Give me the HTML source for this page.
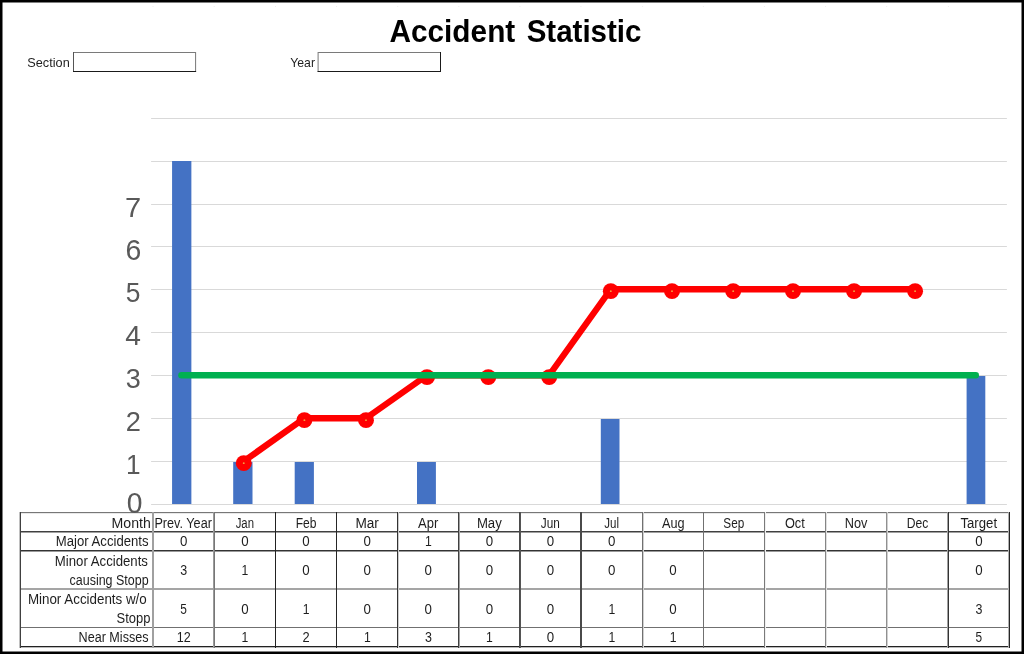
<!DOCTYPE html><html><head><meta charset="utf-8"><title>Accident Statistic</title><style>html,body{margin:0;padding:0;background:#fff;}body{width:1024px;height:654px;overflow:hidden;position:relative;}svg{position:absolute;left:0;top:0;display:block;will-change:transform;}text{font-family:"Liberation Sans",Arial,sans-serif;}</style></head><body>
<svg width="1024" height="654" viewBox="0 0 1024 654">
<rect x="0" y="0" width="1024" height="654" fill="#fff"/>
<rect x="152.5" y="6" width="1" height="1" fill="#eeeeee"/>
<rect x="213.7" y="6" width="1" height="1" fill="#eeeeee"/>
<rect x="275.0" y="6" width="1" height="1" fill="#eeeeee"/>
<rect x="336.1" y="6" width="1" height="1" fill="#eeeeee"/>
<rect x="397.2" y="6" width="1" height="1" fill="#eeeeee"/>
<rect x="458.3" y="6" width="1" height="1" fill="#eeeeee"/>
<rect x="519.4" y="6" width="1" height="1" fill="#eeeeee"/>
<rect x="580.4" y="6" width="1" height="1" fill="#eeeeee"/>
<rect x="642.1" y="6" width="1" height="1" fill="#eeeeee"/>
<rect x="702.9" y="6" width="1" height="1" fill="#eeeeee"/>
<rect x="763.9" y="6" width="1" height="1" fill="#eeeeee"/>
<rect x="825.1" y="6" width="1" height="1" fill="#eeeeee"/>
<rect x="886.2" y="6" width="1" height="1" fill="#eeeeee"/>
<rect x="947.9" y="6" width="1" height="1" fill="#eeeeee"/>
<line x1="151.1" y1="504.50" x2="1006.9" y2="504.50" stroke="#d9d9d9" stroke-width="1"/>
<line x1="151.1" y1="461.50" x2="1006.9" y2="461.50" stroke="#d9d9d9" stroke-width="1"/>
<line x1="151.1" y1="418.50" x2="1006.9" y2="418.50" stroke="#d9d9d9" stroke-width="1"/>
<line x1="151.1" y1="375.50" x2="1006.9" y2="375.50" stroke="#d9d9d9" stroke-width="1"/>
<line x1="151.1" y1="332.50" x2="1006.9" y2="332.50" stroke="#d9d9d9" stroke-width="1"/>
<line x1="151.1" y1="289.50" x2="1006.9" y2="289.50" stroke="#d9d9d9" stroke-width="1"/>
<line x1="151.1" y1="246.50" x2="1006.9" y2="246.50" stroke="#d9d9d9" stroke-width="1"/>
<line x1="151.1" y1="204.50" x2="1006.9" y2="204.50" stroke="#d9d9d9" stroke-width="1"/>
<line x1="151.1" y1="161.50" x2="1006.9" y2="161.50" stroke="#d9d9d9" stroke-width="1"/>
<line x1="151.1" y1="118.50" x2="1006.9" y2="118.50" stroke="#d9d9d9" stroke-width="1"/>
<text x="125.11" y="216.55" font-size="28.42" fill="#595959" textLength="16.15" lengthAdjust="spacingAndGlyphs">7</text>
<text x="125.46" y="259.52" font-size="28.67" fill="#595959" textLength="15.79" lengthAdjust="spacingAndGlyphs">6</text>
<text x="125.84" y="302.42" font-size="28.23" fill="#595959" textLength="14.66" lengthAdjust="spacingAndGlyphs">5</text>
<text x="125.25" y="345.20" font-size="28.49" fill="#595959" textLength="15.67" lengthAdjust="spacingAndGlyphs">4</text>
<text x="125.87" y="388.23" font-size="27.97" fill="#595959" textLength="15.01" lengthAdjust="spacingAndGlyphs">3</text>
<text x="125.73" y="430.90" font-size="27.93" fill="#595959" textLength="15.14" lengthAdjust="spacingAndGlyphs">2</text>
<text x="126.00" y="473.50" font-size="27.98" fill="#595959" textLength="14.58" lengthAdjust="spacingAndGlyphs">1</text>
<text x="126.70" y="513.22" font-size="28.95" fill="#595959" textLength="15.71" lengthAdjust="spacingAndGlyphs">0</text>
<rect x="172.07" y="161.00" width="19.30" height="343.00" fill="#4472c4"/>
<rect x="233.20" y="462.00" width="19.30" height="42.00" fill="#4472c4"/>
<rect x="294.70" y="462.00" width="19.20" height="42.00" fill="#4472c4"/>
<rect x="417.00" y="462.00" width="18.90" height="42.00" fill="#4472c4"/>
<rect x="600.80" y="419.00" width="18.70" height="85.00" fill="#4472c4"/>
<rect x="966.60" y="376.00" width="18.70" height="128.00" fill="#4472c4"/>
<polyline points="243.76,461.25 304.40,418.25 366.00,418.25 427.00,375.25 488.30,375.25 549.20,375.25 610.80,289.25 672.00,289.25 733.20,289.25 793.00,289.25 854.05,289.25 915.10,289.25" fill="none" stroke="#ff0000" stroke-width="6.4" stroke-linejoin="round" stroke-linecap="round"/>
<circle cx="243.76" cy="463.15" r="7.95" fill="#ff0000"/>
<circle cx="243.76" cy="463.15" r="0.95" fill="#f0a040"/>
<circle cx="304.40" cy="420.15" r="7.95" fill="#ff0000"/>
<circle cx="304.40" cy="420.15" r="0.95" fill="#f0a040"/>
<circle cx="366.00" cy="420.15" r="7.95" fill="#ff0000"/>
<circle cx="366.00" cy="420.15" r="0.95" fill="#f0a040"/>
<circle cx="427.00" cy="377.15" r="7.95" fill="#ff0000"/>
<circle cx="427.00" cy="377.15" r="0.95" fill="#f0a040"/>
<circle cx="488.30" cy="377.15" r="7.95" fill="#ff0000"/>
<circle cx="488.30" cy="377.15" r="0.95" fill="#f0a040"/>
<circle cx="549.20" cy="377.15" r="7.95" fill="#ff0000"/>
<circle cx="549.20" cy="377.15" r="0.95" fill="#f0a040"/>
<circle cx="610.80" cy="291.15" r="7.95" fill="#ff0000"/>
<circle cx="610.80" cy="291.15" r="0.95" fill="#f0a040"/>
<circle cx="672.00" cy="291.15" r="7.95" fill="#ff0000"/>
<circle cx="672.00" cy="291.15" r="0.95" fill="#f0a040"/>
<circle cx="733.20" cy="291.15" r="7.95" fill="#ff0000"/>
<circle cx="733.20" cy="291.15" r="0.95" fill="#f0a040"/>
<circle cx="793.00" cy="291.15" r="7.95" fill="#ff0000"/>
<circle cx="793.00" cy="291.15" r="0.95" fill="#f0a040"/>
<circle cx="854.05" cy="291.15" r="7.95" fill="#ff0000"/>
<circle cx="854.05" cy="291.15" r="0.95" fill="#f0a040"/>
<circle cx="915.10" cy="291.15" r="7.95" fill="#ff0000"/>
<circle cx="915.10" cy="291.15" r="0.95" fill="#f0a040"/>
<line x1="181.4" y1="375.3" x2="975.8" y2="375.3" stroke="#00b050" stroke-width="6.4" stroke-linecap="round"/>
<rect x="20.3" y="512.4" width="989.10" height="133.90" fill="#fff"/>
<g style="mix-blend-mode:multiply">
<rect x="19" y="512" width="991" height="1" fill="#777777"/>
<rect x="19" y="513" width="991" height="1" fill="#e8e8e8"/>
<rect x="19" y="531" width="991" height="1" fill="#404040"/>
<rect x="19" y="532" width="991" height="1" fill="#a0a0a0"/>
<rect x="19" y="550" width="991" height="1" fill="#333333"/>
<rect x="19" y="551" width="991" height="1" fill="#999999"/>
<rect x="19" y="588" width="991" height="1" fill="#a5a5a5"/>
<rect x="19" y="589" width="991" height="1" fill="#a5a5a5"/>
<rect x="19" y="627" width="991" height="1" fill="#707070"/>
<rect x="19" y="646" width="991" height="1" fill="#222222"/>
<rect x="19" y="647" width="991" height="1" fill="#bbbbbb"/>
<rect x="19" y="512" width="1" height="136" fill="#c0c0c0"/>
<rect x="20" y="512" width="1" height="136" fill="#404040"/>
<rect x="152" y="512" width="1" height="136" fill="#a0a0a0"/>
<rect x="153" y="512" width="1" height="136" fill="#a0a0a0"/>
<rect x="213" y="512" width="1" height="136" fill="#9a9a9a"/>
<rect x="214" y="512" width="1" height="136" fill="#777777"/>
<rect x="275" y="512" width="1" height="136" fill="#222222"/>
<rect x="336" y="512" width="1" height="136" fill="#262626"/>
<rect x="397" y="512" width="1" height="136" fill="#333333"/>
<rect x="398" y="512" width="1" height="136" fill="#cccccc"/>
<rect x="458" y="512" width="1" height="136" fill="#404040"/>
<rect x="459" y="512" width="1" height="136" fill="#a0a0a0"/>
<rect x="519" y="512" width="1" height="136" fill="#4a4a4a"/>
<rect x="520" y="512" width="1" height="136" fill="#555555"/>
<rect x="580" y="512" width="1" height="136" fill="#4a4a4a"/>
<rect x="581" y="512" width="1" height="136" fill="#4a4a4a"/>
<rect x="642" y="512" width="1" height="136" fill="#707070"/>
<rect x="643" y="512" width="1" height="136" fill="#d0d0d0"/>
<rect x="703" y="512" width="1" height="136" fill="#707070"/>
<rect x="764" y="512" width="1" height="136" fill="#7a7a7a"/>
<rect x="765" y="512" width="1" height="136" fill="#f0f0f0"/>
<rect x="825" y="512" width="1" height="136" fill="#858585"/>
<rect x="826" y="512" width="1" height="136" fill="#e0e0e0"/>
<rect x="886" y="512" width="1" height="136" fill="#909090"/>
<rect x="887" y="512" width="1" height="136" fill="#d0d0d0"/>
<rect x="947" y="512" width="1" height="136" fill="#a0a0a0"/>
<rect x="948" y="512" width="1" height="136" fill="#333333"/>
<rect x="1008" y="512" width="1" height="136" fill="#b0b0b0"/>
<rect x="1009" y="512" width="1" height="136" fill="#262626"/>
</g>
<text x="154.40" y="527.60" font-size="14.0" fill="#1e1e1e" textLength="57.50" lengthAdjust="spacingAndGlyphs">Prev. Year</text>
<text x="235.64" y="527.60" font-size="14.0" fill="#1e1e1e" textLength="18.36" lengthAdjust="spacingAndGlyphs">Jan</text>
<text x="295.63" y="527.60" font-size="14.0" fill="#1e1e1e" textLength="20.80" lengthAdjust="spacingAndGlyphs">Feb</text>
<text x="355.39" y="527.60" font-size="14.0" fill="#1e1e1e" textLength="23.49" lengthAdjust="spacingAndGlyphs">Mar</text>
<text x="418.11" y="527.60" font-size="14.0" fill="#1e1e1e" textLength="20.25" lengthAdjust="spacingAndGlyphs">Apr</text>
<text x="476.90" y="527.60" font-size="14.0" fill="#1e1e1e" textLength="24.88" lengthAdjust="spacingAndGlyphs">May</text>
<text x="540.86" y="527.60" font-size="14.0" fill="#1e1e1e" textLength="19.04" lengthAdjust="spacingAndGlyphs">Jun</text>
<text x="604.29" y="527.60" font-size="14.0" fill="#1e1e1e" textLength="14.75" lengthAdjust="spacingAndGlyphs">Jul</text>
<text x="662.01" y="527.60" font-size="14.0" fill="#1e1e1e" textLength="22.59" lengthAdjust="spacingAndGlyphs">Aug</text>
<text x="723.37" y="527.60" font-size="14.0" fill="#1e1e1e" textLength="20.90" lengthAdjust="spacingAndGlyphs">Sep</text>
<text x="784.95" y="527.60" font-size="14.0" fill="#1e1e1e" textLength="19.84" lengthAdjust="spacingAndGlyphs">Oct</text>
<text x="844.74" y="527.60" font-size="14.0" fill="#1e1e1e" textLength="22.69" lengthAdjust="spacingAndGlyphs">Nov</text>
<text x="906.75" y="527.60" font-size="14.0" fill="#1e1e1e" textLength="21.59" lengthAdjust="spacingAndGlyphs">Dec</text>
<text x="960.45" y="527.60" font-size="14.0" fill="#1e1e1e" textLength="36.62" lengthAdjust="spacingAndGlyphs">Target</text>
<text x="179.89" y="546.30" font-size="14.0" fill="#1e1e1e" textLength="7.41" lengthAdjust="spacingAndGlyphs">0</text>
<text x="241.14" y="546.30" font-size="14.0" fill="#1e1e1e" textLength="7.41" lengthAdjust="spacingAndGlyphs">0</text>
<text x="302.34" y="546.30" font-size="14.0" fill="#1e1e1e" textLength="7.41" lengthAdjust="spacingAndGlyphs">0</text>
<text x="363.44" y="546.30" font-size="14.0" fill="#1e1e1e" textLength="7.41" lengthAdjust="spacingAndGlyphs">0</text>
<text x="424.98" y="546.30" font-size="14.0" fill="#1e1e1e" textLength="6.78" lengthAdjust="spacingAndGlyphs">1</text>
<text x="485.64" y="546.30" font-size="14.0" fill="#1e1e1e" textLength="7.41" lengthAdjust="spacingAndGlyphs">0</text>
<text x="546.69" y="546.30" font-size="14.0" fill="#1e1e1e" textLength="7.41" lengthAdjust="spacingAndGlyphs">0</text>
<text x="608.04" y="546.30" font-size="14.0" fill="#1e1e1e" textLength="7.41" lengthAdjust="spacingAndGlyphs">0</text>
<text x="975.19" y="546.30" font-size="14.0" fill="#1e1e1e" textLength="7.41" lengthAdjust="spacingAndGlyphs">0</text>
<text x="180.23" y="575.10" font-size="14.0" fill="#1e1e1e" textLength="6.94" lengthAdjust="spacingAndGlyphs">3</text>
<text x="241.58" y="575.10" font-size="14.0" fill="#1e1e1e" textLength="6.78" lengthAdjust="spacingAndGlyphs">1</text>
<text x="302.34" y="575.10" font-size="14.0" fill="#1e1e1e" textLength="7.41" lengthAdjust="spacingAndGlyphs">0</text>
<text x="363.44" y="575.10" font-size="14.0" fill="#1e1e1e" textLength="7.41" lengthAdjust="spacingAndGlyphs">0</text>
<text x="424.54" y="575.10" font-size="14.0" fill="#1e1e1e" textLength="7.41" lengthAdjust="spacingAndGlyphs">0</text>
<text x="485.64" y="575.10" font-size="14.0" fill="#1e1e1e" textLength="7.41" lengthAdjust="spacingAndGlyphs">0</text>
<text x="546.69" y="575.10" font-size="14.0" fill="#1e1e1e" textLength="7.41" lengthAdjust="spacingAndGlyphs">0</text>
<text x="608.04" y="575.10" font-size="14.0" fill="#1e1e1e" textLength="7.41" lengthAdjust="spacingAndGlyphs">0</text>
<text x="669.29" y="575.10" font-size="14.0" fill="#1e1e1e" textLength="7.41" lengthAdjust="spacingAndGlyphs">0</text>
<text x="975.19" y="575.10" font-size="14.0" fill="#1e1e1e" textLength="7.41" lengthAdjust="spacingAndGlyphs">0</text>
<text x="180.21" y="613.80" font-size="14.0" fill="#1e1e1e" textLength="6.61" lengthAdjust="spacingAndGlyphs">5</text>
<text x="241.14" y="613.80" font-size="14.0" fill="#1e1e1e" textLength="7.41" lengthAdjust="spacingAndGlyphs">0</text>
<text x="302.78" y="613.80" font-size="14.0" fill="#1e1e1e" textLength="6.78" lengthAdjust="spacingAndGlyphs">1</text>
<text x="363.44" y="613.80" font-size="14.0" fill="#1e1e1e" textLength="7.41" lengthAdjust="spacingAndGlyphs">0</text>
<text x="424.54" y="613.80" font-size="14.0" fill="#1e1e1e" textLength="7.41" lengthAdjust="spacingAndGlyphs">0</text>
<text x="485.64" y="613.80" font-size="14.0" fill="#1e1e1e" textLength="7.41" lengthAdjust="spacingAndGlyphs">0</text>
<text x="546.69" y="613.80" font-size="14.0" fill="#1e1e1e" textLength="7.41" lengthAdjust="spacingAndGlyphs">0</text>
<text x="608.48" y="613.80" font-size="14.0" fill="#1e1e1e" textLength="6.78" lengthAdjust="spacingAndGlyphs">1</text>
<text x="669.29" y="613.80" font-size="14.0" fill="#1e1e1e" textLength="7.41" lengthAdjust="spacingAndGlyphs">0</text>
<text x="975.53" y="613.80" font-size="14.0" fill="#1e1e1e" textLength="6.94" lengthAdjust="spacingAndGlyphs">3</text>
<text x="176.76" y="642.30" font-size="14.0" fill="#1e1e1e" textLength="13.98" lengthAdjust="spacingAndGlyphs">12</text>
<text x="241.58" y="642.30" font-size="14.0" fill="#1e1e1e" textLength="6.78" lengthAdjust="spacingAndGlyphs">1</text>
<text x="302.48" y="642.30" font-size="14.0" fill="#1e1e1e" textLength="7.17" lengthAdjust="spacingAndGlyphs">2</text>
<text x="363.88" y="642.30" font-size="14.0" fill="#1e1e1e" textLength="6.78" lengthAdjust="spacingAndGlyphs">1</text>
<text x="424.88" y="642.30" font-size="14.0" fill="#1e1e1e" textLength="6.94" lengthAdjust="spacingAndGlyphs">3</text>
<text x="486.08" y="642.30" font-size="14.0" fill="#1e1e1e" textLength="6.78" lengthAdjust="spacingAndGlyphs">1</text>
<text x="546.69" y="642.30" font-size="14.0" fill="#1e1e1e" textLength="7.41" lengthAdjust="spacingAndGlyphs">0</text>
<text x="608.48" y="642.30" font-size="14.0" fill="#1e1e1e" textLength="6.78" lengthAdjust="spacingAndGlyphs">1</text>
<text x="669.73" y="642.30" font-size="14.0" fill="#1e1e1e" textLength="6.78" lengthAdjust="spacingAndGlyphs">1</text>
<text x="975.51" y="642.30" font-size="14.0" fill="#1e1e1e" textLength="6.61" lengthAdjust="spacingAndGlyphs">5</text>
<text x="111.54" y="527.60" font-size="14.0" fill="#1e1e1e" textLength="39.28" lengthAdjust="spacingAndGlyphs">Month</text>
<text x="55.83" y="546.30" font-size="14.0" fill="#1e1e1e" textLength="92.74" lengthAdjust="spacingAndGlyphs">Major Accidents</text>
<text x="54.83" y="565.80" font-size="14.0" fill="#1e1e1e" textLength="93.15" lengthAdjust="spacingAndGlyphs">Minor Accidents</text>
<text x="69.57" y="584.70" font-size="14.0" fill="#1e1e1e" textLength="79.05" lengthAdjust="spacingAndGlyphs">causing Stopp</text>
<text x="27.91" y="603.80" font-size="14.0" fill="#1e1e1e" textLength="118.85" lengthAdjust="spacingAndGlyphs">Minor Accidents w/o</text>
<text x="116.61" y="623.30" font-size="14.0" fill="#1e1e1e" textLength="33.83" lengthAdjust="spacingAndGlyphs">Stopp</text>
<text x="78.57" y="642.30" font-size="14.0" fill="#1e1e1e" textLength="69.99" lengthAdjust="spacingAndGlyphs">Near Misses</text>
<text x="27.32" y="67.00" font-size="12.8" fill="#1e1e1e" textLength="42.40" lengthAdjust="spacingAndGlyphs">Section</text>
<text x="290.24" y="67.00" font-size="12.8" fill="#1e1e1e" textLength="24.75" lengthAdjust="spacingAndGlyphs">Year</text>
<line x1="73.50" y1="52.5" x2="195.60" y2="52.5" stroke="#7a7a7a" stroke-width="1"/>
<line x1="73.50" y1="52.0" x2="73.50" y2="72.0" stroke="#555" stroke-width="1"/>
<line x1="195.60" y1="52.0" x2="195.60" y2="72.0" stroke="#777" stroke-width="1"/>
<line x1="73.00" y1="71.5" x2="196.10" y2="71.5" stroke="#1a1a1a" stroke-width="1"/>
<line x1="318.10" y1="52.5" x2="440.50" y2="52.5" stroke="#7a7a7a" stroke-width="1"/>
<line x1="318.10" y1="52.0" x2="318.10" y2="72.0" stroke="#777" stroke-width="1"/>
<line x1="440.50" y1="52.0" x2="440.50" y2="72.0" stroke="#1a1a1a" stroke-width="1"/>
<line x1="317.60" y1="71.5" x2="441.00" y2="71.5" stroke="#1a1a1a" stroke-width="1"/>
<text x="389.46" y="42.00" font-size="31.6" font-weight="bold" fill="#000" textLength="125.81" lengthAdjust="spacingAndGlyphs">Accident</text>
<text x="526.65" y="42.00" font-size="31.6" font-weight="bold" fill="#000" textLength="114.81" lengthAdjust="spacingAndGlyphs">Statistic</text>
<rect x="1.25" y="1.25" width="1021.5" height="651.5" fill="none" stroke="#000" stroke-width="2.5"/>
</svg></body></html>
